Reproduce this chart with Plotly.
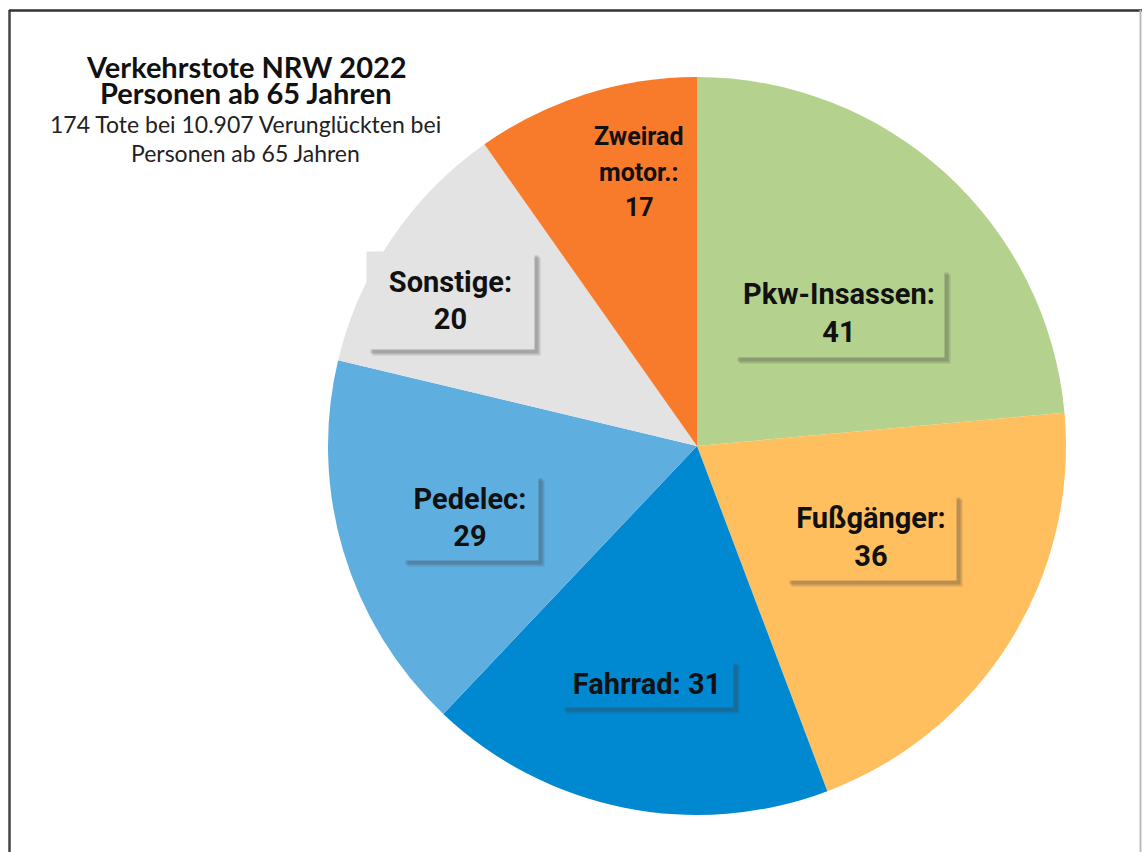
import plotly.graph_objects as go

# ---- data ----
categories = ["Pkw-Insassen", "Fußgänger", "Fahrrad", "Pedelec", "Sonstige", "Zweirad motor."]
values = [41, 36, 31, 29, 20, 17]
label_texts = ["Pkw-Insassen:<br>41", "Fußgänger:<br>36", "Fahrrad: 31",
               "Pedelec:<br>29", "Sonstige:<br>20", "Zweirad<br>motor.:<br>17"]
colors = ["#B5D18E", "#FFBF5F", "#0088D1", "#5FAEE0", "#E3E3E3", "#F87A2B"]
title_lines = ["Verkehrstote NRW 2022", "Personen ab 65 Jahren"]
subtitle_lines = ["174 Tote bei 10.907 Verunglückten bei", "Personen ab 65 Jahren"]

# ---- layout (pixel geometry) ----
W, H = 1142, 852
box_centers = [(839, 313), (871, 537), (647, 683), (470, 517), (450, 300), (639, 172)]
box_sizes = [(208, 86), (168, 84), (170, 45), (134, 83), (165, 95), (None, None)]


def px(x):
    return x / W


def py(y):
    return 1 - y / H


fig = go.Figure(go.Pie(
    labels=categories,
    values=values,
    sort=False,
    direction="clockwise",
    rotation=0,
    marker=dict(colors=colors, line=dict(width=0)),
    textinfo="none",
    hoverinfo="label+value",
    showlegend=False,
    domain=dict(x=[px(328), px(1066)], y=[py(815), py(77)]),
))

annotations = []
label_font = dict(family="Roboto, Noto Sans, sans-serif", size=29, color="#111111")
for txt, (cx, cy), (bw, bh), col in zip(label_texts, box_centers, box_sizes, colors):
    lines = txt.split("<br>")
    common = dict(xref="paper", yref="paper", showarrow=False,
                  xanchor="center", yanchor="middle", align="center", valign="middle")
    if bw is not None:
        btxt = "<br>".join("<b>%s</b>" % t for t in lines)
        # soft shadow: two offset translucent boxes
        annotations.append(dict(common, x=px(cx), y=py(cy), text=" ",
                                width=bw, height=bh, bgcolor="rgba(60,60,60,0.18)",
                                xshift=6, yshift=-6))
        annotations.append(dict(common, x=px(cx), y=py(cy), text=" ",
                                width=bw, height=bh, bgcolor="rgba(60,60,60,0.22)",
                                xshift=4, yshift=-4))
        annotations.append(dict(common, x=px(cx), y=py(cy), text=btxt, font=label_font,
                                width=bw, height=bh, bgcolor=col))
    else:
        n = len(lines)
        step = 35.5
        for i, t in enumerate(lines):
            yy = cy + (i - (n - 1) / 2) * step
            annotations.append(dict(common, x=px(cx), y=py(yy), text="<b>%s</b>" % t,
                                    font=dict(label_font, size=25)))

# title block
for line, y in zip(title_lines, [66, 93]):
    annotations.append(dict(
        x=px(246), y=py(y), xref="paper", yref="paper", showarrow=False,
        xanchor="center", yanchor="middle",
        text="<b>%s</b>" % line,
        font=dict(family="Lato, sans-serif", size=29, color="#111111"),
    ))
for line, y in zip(subtitle_lines, [124, 153]):
    annotations.append(dict(
        x=px(245), y=py(y), xref="paper", yref="paper", showarrow=False,
        xanchor="center", yanchor="middle",
        text=line,
        font=dict(family="Lato, sans-serif", size=23, color="#222222"),
    ))

shapes = [
    dict(type="line", xref="paper", yref="paper", x0=px(9.5), x1=px(9.5), y0=py(10), y1=0,
         line=dict(color="#444444", width=2.5)),
    dict(type="line", xref="paper", yref="paper", x0=px(9), x1=px(1142), y0=py(10.5), y1=py(10.5),
         line=dict(color="#333333", width=2.5)),
    dict(type="line", xref="paper", yref="paper", x0=px(1140.5), x1=px(1140.5), y0=py(10), y1=0,
         line=dict(color="#BBBBBB", width=2)),
]

fig.update_layout(
    width=W, height=H,
    margin=dict(l=0, r=0, t=0, b=0),
    paper_bgcolor="white", plot_bgcolor="white",
    annotations=annotations,
    shapes=shapes,
)

fig.write_html("out.html", config={"displayModeBar": False},
               post_script="document.body.style.margin='0';")
